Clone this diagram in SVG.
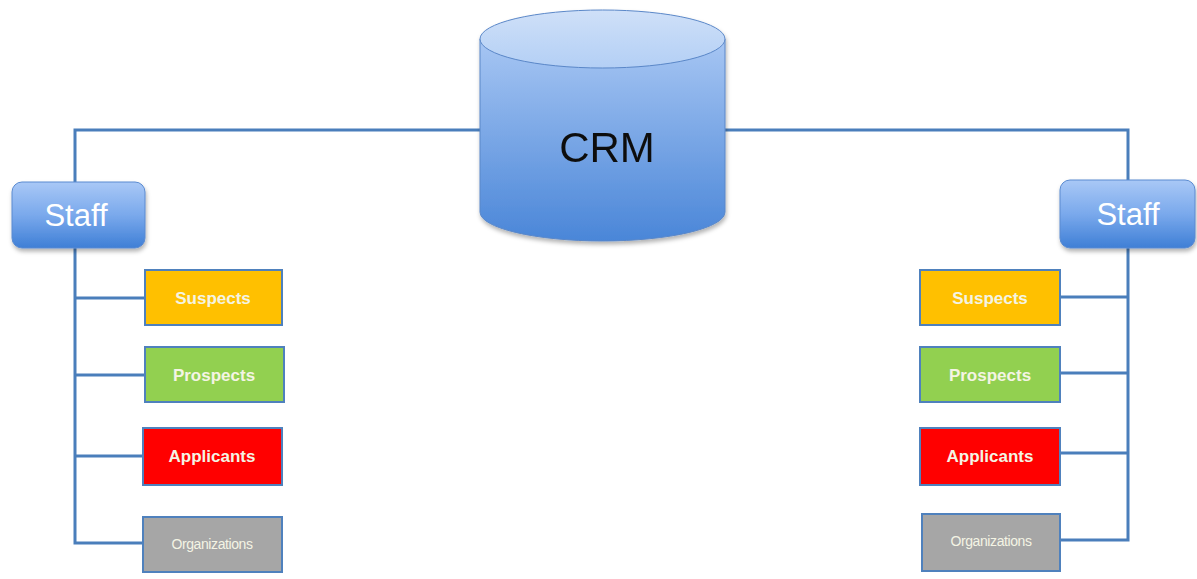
<svg xmlns="http://www.w3.org/2000/svg" width="1197" height="579" viewBox="0 0 1197 579">
  <defs>
    <linearGradient id="staffFill" x1="0" y1="0" x2="0" y2="1">
      <stop offset="0" stop-color="#a9c8f6"/>
      <stop offset="0.5" stop-color="#7aa9ec"/>
      <stop offset="1" stop-color="#3f7fd6"/>
    </linearGradient>
    <linearGradient id="cylBody" x1="0" y1="0" x2="0" y2="1">
      <stop offset="0" stop-color="#a7c6f3"/>
      <stop offset="1" stop-color="#4a86d8"/>
    </linearGradient>
    <linearGradient id="cylTop" x1="0" y1="0" x2="0" y2="1">
      <stop offset="0" stop-color="#cfe0f8"/>
      <stop offset="1" stop-color="#b3cff5"/>
    </linearGradient>
    <filter id="shadow" x="-10%" y="-10%" width="130%" height="140%">
      <feDropShadow dx="1" dy="3" stdDeviation="2" flood-color="#000" flood-opacity="0.3"/>
    </filter>
  </defs>
  <style>
    .wire { fill: none; stroke: #4a7ebb; stroke-width: 3; }
    .staff rect { fill: url(#staffFill); stroke: #5a8ad0; stroke-width: 1; filter: url(#shadow); }
    .staff text { font-family: "Liberation Sans", Arial, sans-serif; font-size: 31px; fill: #ffffff; text-anchor: middle; }
    .box rect { stroke: #4f81bd; stroke-width: 2; }
    .box text { font-family: "Liberation Sans", Arial, sans-serif; font-weight: bold; font-size: 17px; fill: #f4f4e4; text-anchor: middle; }
    .box text.small { font-weight: normal; font-size: 14px; letter-spacing: -0.4px; }
  </style>
  <rect width="1197" height="579" fill="#ffffff"/>

  <!-- connectors -->
  <g id="connectors">
    <polyline class="wire" points="482,130 75,130 75,543 145,543"/>
    <line class="wire" x1="75" y1="298" x2="145" y2="298"/>
    <line class="wire" x1="75" y1="375" x2="145" y2="375"/>
    <line class="wire" x1="75" y1="456" x2="143" y2="456"/>
    <polyline class="wire" points="723,130 1128,130 1128,540 1060,540"/>
    <line class="wire" x1="1128" y1="297" x2="1060" y2="297"/>
    <line class="wire" x1="1128" y1="373" x2="1060" y2="373"/>
    <line class="wire" x1="1128" y1="453" x2="1060" y2="453"/>
  </g>

  <!-- CRM database -->
  <g id="crm" filter="url(#shadow)">
    <path d="M480,39 L480,212 A122.5,29 0 0 0 725,212 L725,39 Z" fill="url(#cylBody)" stroke="#5a87c8" stroke-width="1"/>
    <ellipse cx="602.5" cy="39" rx="122.5" ry="29" fill="url(#cylTop)" stroke="#5a87c8" stroke-width="1"/>
    <text x="607" y="162" font-family="Liberation Sans, Arial, sans-serif" font-size="42" fill="#111111" text-anchor="middle">CRM</text>
  </g>

  <!-- left staff branch -->
  <g id="staff-left" class="staff">
    <rect x="12" y="182" width="133" height="66" rx="10"/>
    <text x="76" y="226">Staff</text>
  </g>
  <g id="suspects-left" class="box">
    <rect x="145" y="270" width="137" height="55" fill="#ffc000"/>
    <text x="213" y="304">Suspects</text>
  </g>
  <g id="prospects-left" class="box">
    <rect x="145" y="347" width="139" height="55" fill="#92d050"/>
    <text x="214" y="381">Prospects</text>
  </g>
  <g id="applicants-left" class="box">
    <rect x="143" y="428" width="139" height="57" fill="#ff0000"/>
    <text x="212" y="462">Applicants</text>
  </g>
  <g id="organizations-left" class="box">
    <rect x="143" y="517" width="139" height="55" fill="#a6a6a6"/>
    <text class="small" x="212" y="549">Organizations</text>
  </g>

  <!-- right staff branch -->
  <g id="staff-right" class="staff">
    <rect x="1060" y="180" width="135" height="68" rx="10"/>
    <text x="1128" y="225">Staff</text>
  </g>
  <g id="suspects-right" class="box">
    <rect x="920" y="270" width="140" height="55" fill="#ffc000"/>
    <text x="990" y="304">Suspects</text>
  </g>
  <g id="prospects-right" class="box">
    <rect x="920" y="347" width="140" height="55" fill="#92d050"/>
    <text x="990" y="381">Prospects</text>
  </g>
  <g id="applicants-right" class="box">
    <rect x="920" y="428" width="140" height="57" fill="#ff0000"/>
    <text x="990" y="462">Applicants</text>
  </g>
  <g id="organizations-right" class="box">
    <rect x="922" y="514" width="138" height="57" fill="#a6a6a6"/>
    <text class="small" x="991" y="546">Organizations</text>
  </g>
</svg>
